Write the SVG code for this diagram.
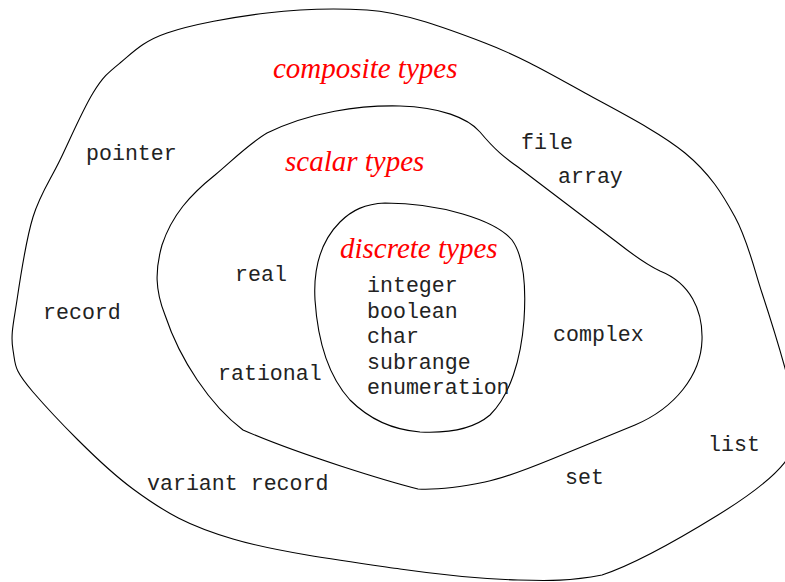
<svg xmlns="http://www.w3.org/2000/svg" width="785" height="582" viewBox="0 0 785 582">
<style>
.region{fill:none;stroke:#000;stroke-width:1.1}
.title{font-family:"Liberation Serif",serif;font-style:italic;font-size:29px;fill:#ff0000}
.item{font-family:"Liberation Mono",monospace;font-size:21.6px;fill:#222}
</style>
<rect width="785" height="582" fill="#fff"/>
<g id="connectors"></g>
<g id="composite">
<path class="region" d="M13,350 C10.3,334.7 13.7,322.2 17,300 C20.3,277.8 25.8,240.3 33,217 C40.2,193.7 50,180.7 60,160 C70,139.3 83,109.2 93,93 C103,76.8 107.7,73 120,63 C132.3,53 142.5,41.3 167,33 C191.5,24.7 233.7,16.8 267,13 C300,9 335,8 367,10 C403.3,12 448.7,29.2 485,43 C521.3,56.8 551.7,74.7 585,93 C618.3,111.3 660,132.3 685,153 C710,173.7 722.2,193.7 735,217 C747.8,240.3 753.7,267.8 762,293 C770.3,318.2 779.3,347.7 785,368 C790.7,388.3 796,399.3 796,415 C796,430.7 798,445.3 785,462 C772,478.7 748.5,496.2 718,515 C687.5,533.8 635.3,564 602,575 C570,581 550,581 518,580 C484.3,579 447.5,575.8 400,569 C352.5,562.2 277.5,552.3 233,539 C188.5,525.7 166.3,513.5 133,489 C99.7,464.5 53,415.2 33,392 C13,368.8 15.7,365.3 13,350 Z"/>
<text class="title" x="273" y="78">composite types</text>
<text class="item" x="86" y="160">pointer</text>
<text class="item" x="43" y="319">record</text>
<text class="item" x="147" y="490">variant record</text>
<text class="item" x="521" y="149">file</text>
<text class="item" x="558" y="183">array</text>
<text class="item" x="565" y="484">set</text>
<text class="item" x="708" y="451">list</text>
</g>
<g id="scalar">
<path class="region" d="M267,133 C310,112 360,105 400,106 C440,107 468,118 480,132 C495,150 505,158 518,167 L618,243 C632,254 645,264 660,271 C690,283 703,310 702,340 C701,375 675,408 635,425 L552,459 C530,468 505,478 485,482 C460,487 435,490 418,489 C390,482 300,455 243,430 C210,405 180,360 165,315 C155,290 155,270 162,245 C172,215 190,195 215,175 C235,158 250,143 267,133 Z"/>
<text class="title" x="285" y="171">scalar types</text>
<text class="item" x="235" y="281">real</text>
<text class="item" x="218" y="380">rational</text>
<text class="item" x="553" y="341">complex</text>
</g>
<g id="discrete">
<path class="region" d="M385,203 C440,203 495,220 512,240 C525,258 526,290 524,320 C521,360 510,395 490,415 C470,432 440,433 420,432 C395,430 370,420 350,400 C330,378 318,345 315,300 C313,265 322,240 340,222 C352,210 365,204 385,203 Z"/>
<text class="title" x="340" y="258">discrete types</text>
<text class="item" x="367" y="292">integer</text>
<text class="item" x="367" y="317.5">boolean</text>
<text class="item" x="367" y="343">char</text>
<text class="item" x="367" y="368.5">subrange</text>
<text class="item" x="367" y="394">enumeration</text>
</g>
</svg>
